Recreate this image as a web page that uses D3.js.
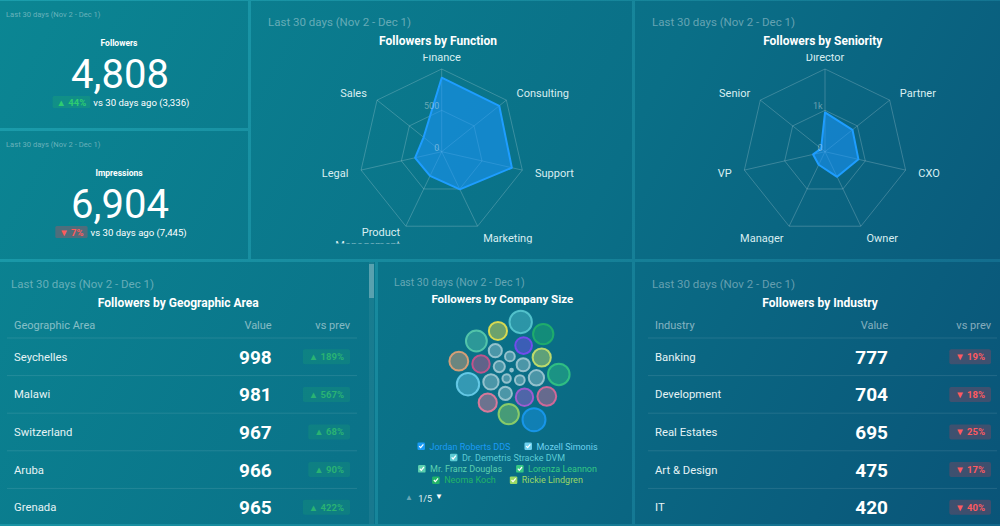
<!DOCTYPE html>
<html><head><meta charset="utf-8">
<script src="https://cdn.jsdelivr.net/npm/d3@7"></script>
<style>
html,body{margin:0;padding:0;background:#0b7a8c;overflow:hidden;}
svg{display:block;font-family:Roboto,"Noto Sans",sans-serif;}
</style></head><body>
<svg id="c" width="1000" height="526"></svg>
<script>
// ---------------- data ----------------
const subtitle = "Last 30 days (Nov 2 - Dec 1)";
const kpiLabels = ["Followers", "Impressions"];
const kpiValues = [4808, 6904];
const kpiChanges = [44, -7];
const kpiPrevious = [3336, 7445];

const functionAxes = ["Finance", "Consulting", "Support", "Marketing", "Product Management", "Legal", "Sales"];
const functionValues = [895, 890, 870, 505, 325, 330, 280];
const functionTicks = [0, 500];
const functionMax = 1000;

const seniorityAxes = ["Director", "Partner", "CXO", "Owner", "Manager", "VP", "Senior"];
const seniorityValues = [950, 850, 830, 675, 350, 295, 120];
const seniorityTicks = [0, 1000];
const seniorityTickLabels = ["0", "1k"];
const seniorityMax = 2000;

const geoNames = ["Seychelles", "Malawi", "Switzerland", "Aruba", "Grenada"];
const geoValues = [998, 981, 967, 966, 965];
const geoChanges = [189, 567, 68, 90, 422];

const industryNames = ["Banking", "Development", "Real Estates", "Art & Design", "IT"];
const industryValues = [777, 704, 695, 475, 420];
const industryChanges = [-19, -18, -25, -17, -40];

const legendNames = ["Jordan Roberts DDS", "Mozell Simonis", "Dr. Demetris Stracke DVM", "Mr. Franz Douglas", "Lorenza Leannon", "Neoma Koch", "Rickie Lindgren"];
const bubbleValues = [144, 137, 137, 121, 128, 115, 115, 87, 69, 69, 100, 81, 53, 100, 87, 53, 40, 94, 53, 25, 32, 32, 94, 94, 5];
const bubbleColors = ["#1a9bf5", "#6fd2f0", "#5ccbd4", "#5ccfae", "#35c883", "#22b468", "#9ad865",
  "#b05ad8", "#a6cdd6", "#a6cdd6", "#e8689a", "#8048f8", "#a6cdd6", "#f0a474", "#d8508c",
  "#a6cdd6", "#a6cdd6", "#d4e868", "#a6cdd6", "#a6cdd6", "#a6cdd6", "#a6cdd6", "#f57a9c", "#f2e64a", "#a6cdd6"];
const legendPage = "1/5";

// ---------------- setup ----------------
const svg = d3.select('#c');
const defs = svg.append('defs');
function grad(id, stops) {
  const lg = defs.append('linearGradient').attr('id', id).attr('gradientUnits', 'userSpaceOnUse')
    .attr('x1', 0).attr('y1', 0).attr('x2', 1000).attr('y2', 526);
  stops.forEach(([o, c]) => lg.append('stop').attr('offset', o).attr('stop-color', c));
}
grad('gap', [[0, '#1b9eac'], [0.55, '#168399'], [1, '#12678b']]);
grad('pan', [[0, '#0b8693'], [0.55, '#0a6f87'], [1, '#0a5478']]);
svg.append('rect').attr('width', 1000).attr('height', 526).attr('fill', 'url(#gap)');
const panels = [[0, 1, 248, 127], [0, 131, 248, 128], [251, 1, 381, 258], [635, 1, 365, 258],
  [0, 262, 375, 262], [378, 262, 254, 262], [635, 262, 365, 262]];
svg.selectAll('rect.panel').data(panels).join('rect').attr('class', 'panel')
  .attr('x', d => d[0]).attr('y', d => d[1]).attr('width', d => d[2]).attr('height', d => d[3])
  .attr('fill', 'url(#pan)');

const faint = 'rgba(255,255,255,0.38)';
const fmt = d3.format(',');

// ---------------- KPIs ----------------
kpiLabels.forEach((lab, i) => {
  const g = svg.append('g').attr('transform', `translate(0,${i * 130})`);
  g.append('text').attr('x', 6).attr('y', 17).attr('font-size', 7.6).attr('fill', faint).text(subtitle);
  g.append('text').attr('x', 119).attr('y', 46).attr('text-anchor', 'middle').attr('font-size', 8.5)
    .attr('font-weight', 'bold').attr('fill', '#fff').text(lab);
  g.append('text').attr('x', 120).attr('y', 88).attr('text-anchor', 'middle').attr('font-size', 40)
    .attr('fill', '#fff').text(fmt(kpiValues[i]));
  const up = kpiChanges[i] >= 0;
  const bg = g.append('rect').attr('y', 96).attr('height', 12).attr('rx', 1.5)
    .attr('fill', up ? 'rgba(40,190,100,0.22)' : 'rgba(225,70,85,0.32)');
  const bt = g.append('text').attr('y', 105.5).attr('font-size', 9.5).attr('font-weight', 'bold')
    .attr('fill', up ? '#2ecc71' : '#ff5b5b').text((up ? '▲ ' : '▼ ') + Math.abs(kpiChanges[i]) + '%');
  const vt = g.append('text').attr('y', 106).attr('font-size', 9.6).attr('fill', '#fff')
    .text(`vs 30 days ago (${fmt(kpiPrevious[i])})`);
  const bw = bt.node().getComputedTextLength() + 8, vw = vt.node().getComputedTextLength();
  const sx = 121 - (bw + 3 + vw) / 2;
  bg.attr('x', sx).attr('width', bw);
  bt.attr('x', sx + 4);
  vt.attr('x', sx + bw + 3);
});

// ---------------- Radar charts ----------------
function radar(o) {
  const pg = svg.append('g');
  pg.append('text').attr('x', o.px + 17).attr('y', 26).attr('font-size', 11.5).attr('fill', faint).text(subtitle);
  pg.append('text').attr('x', o.tx).attr('y', 44.5).attr('text-anchor', 'middle').attr('font-size', 12)
    .attr('font-weight', 'bold').attr('fill', '#fff').text(o.title);
  const clipId = 'clip' + o.px;
  defs.append('clipPath').attr('id', clipId).append('rect')
    .attr('x', o.px).attr('y', 54).attr('width', o.pw).attr('height', 189.5);
  const g = pg.append('g').attr('clip-path', `url(#${clipId})`)
    .append('g').attr('transform', `translate(${o.cx},${o.cy})`);
  const n = o.axes.length;
  const r = d3.scaleLinear().domain([0, o.max]).range([0, o.R]);
  const ang = i => i * 2 * Math.PI / n;
  const ring = d3.lineRadial().angle((d, i) => ang(i)).radius(d => r(d)).curve(d3.curveLinearClosed);
  const gridCol = 'rgba(255,255,255,0.2)';
  const rings = o.ticks.filter(t => t > 0).concat([o.max]);
  g.selectAll('path.ring').data(rings).join('path').attr('class', 'ring')
    .attr('d', v => ring(o.axes.map(() => v))).attr('fill', 'none').attr('stroke', gridCol).attr('stroke-width', 1);
  g.selectAll('line.spoke').data(o.axes).join('line').attr('class', 'spoke')
    .attr('x1', 0).attr('y1', 0)
    .attr('x2', (d, i) => Math.sin(ang(i)) * r(o.max)).attr('y2', (d, i) => -Math.cos(ang(i)) * r(o.max))
    .attr('stroke', gridCol).attr('stroke-width', 1);
  g.append('path').attr('d', ring(o.values)).attr('fill', 'rgba(28,152,255,0.55)')
    .attr('stroke', '#1e9dff').attr('stroke-width', 2).attr('stroke-linejoin', 'round');
  g.selectAll('text.tick').data(o.ticks).join('text').attr('class', 'tick')
    .attr('x', -2.5).attr('y', t => -r(t) - 1).attr('text-anchor', 'end').attr('font-size', 9)
    .attr('fill', 'rgba(255,255,255,0.38)').text((t, i) => o.tickLabels ? o.tickLabels[i] : t);
  const lr = o.R + 13;
  o.axes.forEach((a, i) => {
    const s = Math.sin(ang(i)), c = Math.cos(ang(i));
    const x = s * lr, y = -c * lr;
    const anchor = Math.abs(s) < 0.1 ? 'middle' : (s > 0 ? 'start' : 'end');
    const words = a.split(' ');
    const t = g.append('text').attr('text-anchor', anchor).attr('font-size', 11).attr('fill', '#d9eef1');
    const lh = 12.7;
    words.forEach((w, k) => {
      t.append('tspan').attr('x', x).attr('y', y + 4.5 - (words.length - 1) * lh / 2 + k * lh).text(w);
    });
  });
}
radar({px: 251, pw: 381, tx: 438, title: 'Followers by Function', cx: 441.7, cy: 151.7, R: 82.7,
  axes: functionAxes, values: functionValues, ticks: functionTicks, max: functionMax});
radar({px: 635, pw: 365, tx: 822.7, title: 'Followers by Seniority', cx: 825, cy: 151.7, R: 82.7,
  axes: seniorityAxes, values: seniorityValues, ticks: seniorityTicks, tickLabels: seniorityTickLabels, max: seniorityMax});

// ---------------- Tables ----------------
function table(o) {
  const g = svg.append('g');
  g.append('text').attr('x', o.lx - 3).attr('y', 288).attr('font-size', 11.5).attr('fill', faint).text(subtitle);
  g.append('text').attr('x', o.tx).attr('y', 307).attr('text-anchor', 'middle').attr('font-size', 12)
    .attr('font-weight', 'bold').attr('fill', '#fff').text(o.title);
  const hc = 'rgba(255,255,255,0.5)';
  g.append('text').attr('x', o.lx).attr('y', 329).attr('font-size', 11).attr('fill', hc).text(o.header);
  g.append('text').attr('x', o.vx).attr('y', 329).attr('text-anchor', 'end').attr('font-size', 11).attr('fill', hc).text('Value');
  g.append('text').attr('x', o.cx).attr('y', 329).attr('text-anchor', 'end').attr('font-size', 11).attr('fill', hc).text('vs prev');
  const y = d3.scaleBand().domain(d3.range(o.names.length)).range([338, 338 + 37.6 * o.names.length]);
  o.names.forEach((nm, i) => {
    const yb = y(i), ym = yb + y.bandwidth() / 2;
    g.append('line').attr('x1', o.x1).attr('x2', o.x2).attr('y1', yb).attr('y2', yb)
      .attr('stroke', 'rgba(255,255,255,0.1)').attr('stroke-width', 1);
    g.append('text').attr('x', o.lx).attr('y', ym + 4).attr('font-size', 11.3).attr('fill', '#e6f3f5').text(nm);
    g.append('text').attr('x', o.vx).attr('y', ym + 7).attr('text-anchor', 'end').attr('font-size', 19)
      .attr('font-weight', 'bold').attr('fill', '#fff').text(o.values[i]);
    const up = o.changes[i] >= 0;
    const bg = g.append('rect').attr('y', ym - 7.5).attr('height', 15).attr('rx', 2)
      .attr('fill', up ? 'rgba(40,190,100,0.16)' : 'rgba(220,60,80,0.25)');
    const bt = g.append('text').attr('y', ym + 3.3).attr('text-anchor', 'end').attr('font-size', 9.5)
      .attr('font-weight', 'bold').attr('fill', up ? 'rgba(52,196,110,0.75)' : '#ff5a60')
      .text((up ? '▲ ' : '▼ ') + Math.abs(o.changes[i]) + '%');
    const w = bt.node().getComputedTextLength() + 12;
    bt.attr('x', o.cx - 6);
    bg.attr('x', o.cx - w).attr('width', w);
  });
}
table({title: 'Followers by Geographic Area', header: 'Geographic Area', tx: 178.3, lx: 14, vx: 271.7, cx: 350,
  x1: 7, x2: 357, names: geoNames, values: geoValues, changes: geoChanges});
table({title: 'Followers by Industry', header: 'Industry', tx: 820, lx: 655, vx: 888, cx: 991,
  x1: 648, x2: 997, names: industryNames, values: industryValues, changes: industryChanges});
// scrollbar of the geographic table
svg.append('rect').attr('x', 369).attr('y', 262).attr('width', 5).attr('height', 262).attr('fill', 'rgba(255,255,255,0.06)');
svg.append('rect').attr('x', 369).attr('y', 264).attr('width', 5).attr('height', 34).attr('fill', 'rgba(255,255,255,0.28)');

// ---------------- Packed bubbles ----------------
{
  const g = svg.append('g');
  g.append('text').attr('x', 394).attr('y', 285.5).attr('font-size', 10.5).attr('fill', faint).text(subtitle);
  g.append('text').attr('x', 502.3).attr('y', 302.7).attr('text-anchor', 'middle').attr('font-size', 11.5)
    .attr('font-weight', 'bold').attr('fill', '#fff').text('Followers by Company Size');
  const rScale = d3.scaleSqrt().domain([0, d3.max(bubbleValues)]).range([0, 12.5]);
  const nodes = bubbleValues.map((v, i) => ({v, c: bubbleColors[i], br: rScale(v), r: rScale(v) + 1.1}));
  const order = nodes.slice().sort((a, b) => a.v - b.v);
  const sim = d3.forceSimulation(order)
    .alphaDecay(0.008)
    .force('collide', d3.forceCollide(d => d.r).iterations(6).strength(1))
    .force('x', d3.forceX(0).strength(0.12))
    .force('y', d3.forceY(0).strength(0.12))
    .stop();
  for (let k = 0; k < 900; k++) sim.tick();
  const x0 = d3.min(order, d => d.x - d.br), x1 = d3.max(order, d => d.x + d.br);
  const y0 = d3.min(order, d => d.y - d.br), y1 = d3.max(order, d => d.y + d.br);
  const bg = g.append('g').attr('transform', `translate(${509.5 - (x0 + x1) / 2},${371 - (y0 + y1) / 2})`);
  bg.selectAll('circle').data(nodes).join('circle')
    .attr('cx', d => d.x).attr('cy', d => d.y).attr('r', d => Math.max(d.br - 1, 1))
    .attr('fill', d => d.c).attr('fill-opacity', 0.42)
    .attr('stroke', d => d.c).attr('stroke-opacity', 0.85).attr('stroke-width', 2);

  // legend
  const lg = g.append('g');
  const items = legendNames.map((nm, i) => {
    const it = lg.append('g');
    it.append('rect').attr('x', 0).attr('y', -7).attr('width', 7.5).attr('height', 7.5).attr('rx', 1.2)
      .attr('fill', bubbleColors[i]);
    it.append('path').attr('d', 'M1.7,-3.4 L3.2,-1.8 L5.9,-5.1').attr('fill', 'none').attr('stroke', '#fff')
      .attr('stroke-width', 1.2);
    const t = it.append('text').attr('x', 12).attr('y', 0).attr('font-size', 9).attr('fill', bubbleColors[i]).text(nm);
    return {it, w: 12 + t.node().getComputedTextLength()};
  });
  const maxW = 182, gapW = 14;
  const rows = [];
  let cur = [], cw = 0;
  items.forEach(d => {
    const add = cur.length ? gapW + d.w : d.w;
    if (cur.length && cw + add > maxW) { rows.push({items: cur, w: cw}); cur = [d]; cw = d.w; }
    else { cur.push(d); cw += add; }
  });
  rows.push({items: cur, w: cw});
  rows.forEach((row, ri) => {
    let x = 507.5 - row.w / 2;
    const yy = 449.5 + ri * 11.3;
    row.items.forEach(d => { d.it.attr('transform', `translate(${x},${yy})`); x += d.w + gapW; });
  });
  g.append('text').attr('x', 405).attr('y', 499.5).attr('font-size', 8).attr('fill', 'rgba(255,255,255,0.4)').text('▲');
  g.append('text').attr('x', 418.3).attr('y', 502).attr('font-size', 9).attr('fill', '#e6f2f4').text(legendPage);
  g.append('text').attr('x', 435).attr('y', 499).attr('font-size', 8).attr('fill', '#fff').text('▼');
}
</script>
</body></html>
